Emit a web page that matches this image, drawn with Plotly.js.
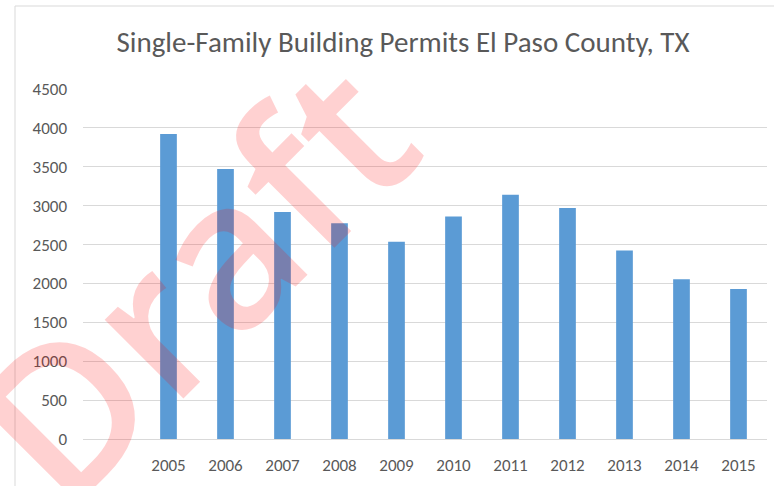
<!DOCTYPE html>
<html>
<head>
<meta charset="utf-8">
<script src="https://cdn.plot.ly/plotly-3.0.1.min.js"></script>
<style>html,body{margin:0;padding:0;background:#fff;}#chart{width:774px;height:486px;}</style>
</head>
<body>
<div id="chart"></div>
<script>
var years = ['2005','2006','2007','2008','2009','2010','2011','2012','2013','2014','2015'];
var permits = [3920, 3470, 2920, 2775, 2535, 2860, 3140, 2970, 2425, 2055, 1930];
var yTicks = [0, 500, 1000, 1500, 2000, 2500, 3000, 3500, 4000, 4500];
var chartTitle = 'Single-Family Building Permits El Paso County, TX';
var watermark = 'Draft';

var W = 774, H = 486;
var mL = 83, mR = 7, mT = 89, mB = 47;
function px2x(p){ return (p - mL) / (W - mL - mR); }
function px2y(p){ return (H - mB - p) / (H - mT - mB); }

var font = "Carlito, 'Liberation Sans Narrow', Lato, sans-serif";

var data = [{
  type: 'bar',
  x: years,
  y: permits,
  marker: {color: '#5B9BD5'},
  hoverinfo: 'x+y'
}];

var layout = {
  width: W, height: H,
  margin: {l: mL, r: mR, t: mT, b: mB, pad: 0},
  paper_bgcolor: '#ffffff',
  plot_bgcolor: '#ffffff',
  bargap: 0.707,
  showlegend: false,
  title: {
    text: chartTitle,
    font: {family: font, size: 29, color: '#595959'},
    x: px2x(403), xref: 'paper', xanchor: 'center',
    y: 0.914, yanchor: 'middle'
  },
  xaxis: {
    type: 'category',
    range: [-1.5, 10.5],
    showgrid: false,
    zeroline: false,
    showline: false,
    ticks: '',
    ticklabelstandoff: 14,
    tickfont: {family: font, size: 17, color: '#595959'},
    fixedrange: true
  },
  yaxis: {
    range: [0, 4500],
    tickvals: yTicks,
    ticktext: yTicks.map(String),
    showgrid: true,
    gridcolor: '#D9D9D9',
    gridwidth: 1,
    zeroline: true,
    zerolinecolor: '#D9D9D9',
    zerolinewidth: 1,
    showline: false,
    ticks: '',
    ticklabelstandoff: 15,
    tickfont: {family: font, size: 17, color: '#595959'},
    fixedrange: true
  },
  shapes: [{
    type: 'rect', xref: 'paper', yref: 'paper',
    x0: px2x(15), x1: px2x(790), y0: px2y(500), y1: px2y(6),
    line: {color: '#D9D9D9', width: 1}, fillcolor: 'rgba(0,0,0,0)', layer: 'below'
  }],
  annotations: [{
    text: watermark,
    xref: 'paper', yref: 'paper',
    x: px2x(190), y: px2y(279),
    xanchor: 'center', yanchor: 'middle',
    showarrow: false,
    textangle: -45,
    font: {family: "'Open Sans', sans-serif", size: 206, weight: 600, color: 'rgba(255,0,0,0.18)'}
  }]
};

Plotly.newPlot('chart', data, layout, {displayModeBar: false, staticPlot: true});
</script>
</body>
</html>
